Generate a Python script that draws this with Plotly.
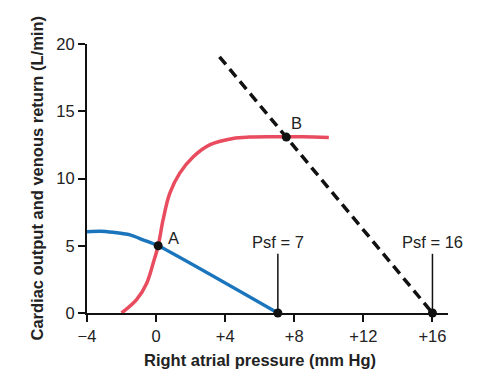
import plotly.graph_objects as go

# Cardiac output curve (red)
co_x = [-2.0, -1.13, -0.55, -0.17, 0.12, 0.40, 0.79, 1.37, 2.14, 3.1, 4.45, 5.4, 7.0, 8.5, 10.0]
co_y = [0.0, 0.99, 2.2, 3.7, 5.0, 6.9, 8.9, 10.4, 11.6, 12.5, 12.98, 13.08, 13.1, 13.1, 13.05]

# Normal venous return curve (blue)
vr_x = [-4.0, -3.23, -2.5, -1.51, -0.75, 0.12, 7.05]
vr_y = [6.05, 6.08, 6.0, 5.81, 5.44, 5.0, 0.0]

# Elevated venous return (dashed)
vr2_x = [3.67, 16.0]
vr2_y = [19.05, 0.0]

# Key points
pt_x = [0.12, 7.54, 7.05, 16.0]
pt_y = [5.0, 13.08, 0.0, 0.0]

# Labels
lab_text = ["A", "B"]
lab_x = [1.0, 8.1]
lab_y = [5.55, 14.1]

psf_text = ["Psf = 7", "Psf = 16"]
psf_x = [7.05, 16.0]
psf_line_top = 4.4
psf_text_y = 5.3

x_ticks = [-4, 0, 4, 8, 12, 16]
x_ticktext = ["\u22124", "0", "+4", "+8", "+12", "+16"]
y_ticks = [0, 5, 10, 15, 20]

FONT = "Liberation Sans, Arial, sans-serif"
FS = 16.5

fig = go.Figure()
fig.add_trace(go.Scatter(x=co_x, y=co_y, mode="lines", line=dict(color="#E84C5E", width=3.5, shape="spline"),
                         cliponaxis=False, hoverinfo="skip"))
fig.add_trace(go.Scatter(x=vr_x, y=vr_y, mode="lines", line=dict(color="#1B75BC", width=3.5, shape="spline", smoothing=0.6),
                         cliponaxis=False, hoverinfo="skip"))
fig.add_trace(go.Scatter(x=vr2_x, y=vr2_y, mode="lines", line=dict(color="#111111", width=3.5, dash="10px,6px"),
                         cliponaxis=False, hoverinfo="skip"))
for px in psf_x:
    fig.add_trace(go.Scatter(x=[px, px], y=[0, psf_line_top], mode="lines",
                             line=dict(color="#111111", width=1.5), cliponaxis=False, hoverinfo="skip"))
fig.add_trace(go.Scatter(x=pt_x, y=pt_y, mode="markers", marker=dict(color="#111111", size=9),
                         cliponaxis=False, hoverinfo="skip"))

for t, x, y in zip(lab_text, lab_x, lab_y):
    fig.add_annotation(x=x, y=y, text=t, showarrow=False, font=dict(family=FONT, size=FS, color="#222222"))
for t, x in zip(psf_text, psf_x):
    fig.add_annotation(x=x, y=psf_text_y, text=t, showarrow=False, font=dict(family=FONT, size=FS, color="#222222"))

PW, PH = 361.0, 269.6
fig.add_annotation(xref="paper", yref="paper", x=(260 - 87) / PW, y=-(360 - 313.3) / PH,
                   xanchor="center", yanchor="middle",
                   text="<b>Right atrial pressure (mm Hg)</b>", showarrow=False,
                   font=dict(family=FONT, size=FS, color="#222222"))
fig.add_annotation(xref="paper", yref="paper", x=-(87 - 36) / PW, y=0.5, textangle=-90,
                   xanchor="center", yanchor="middle",
                   text="<b>Cardiac output and venous return (L/min)</b>", showarrow=False,
                   font=dict(family=FONT, size=FS, color="#222222"))

fig.update_layout(
    width=487, height=367,
    margin=dict(l=79, r=47, t=36, b=61.7, pad=0),
    paper_bgcolor="white", plot_bgcolor="white",
    showlegend=False,
    font=dict(family=FONT, size=FS, color="#222222"),
    xaxis=dict(range=[-4, 16.9], tickvals=x_ticks, ticktext=x_ticktext, showgrid=False, zeroline=False,
               showline=True, linecolor="#111111", linewidth=2, ticks="outside", ticklen=7, tickwidth=2,
               tickcolor="#111111", fixedrange=True),
    yaxis=dict(range=[0, 20], tickvals=y_ticks, showgrid=False, zeroline=False,
               showline=True, linecolor="#111111", linewidth=2, ticks="outside", ticklen=7, tickwidth=2,
               tickcolor="#111111", fixedrange=True),
)

fig.write_html("out.html")
